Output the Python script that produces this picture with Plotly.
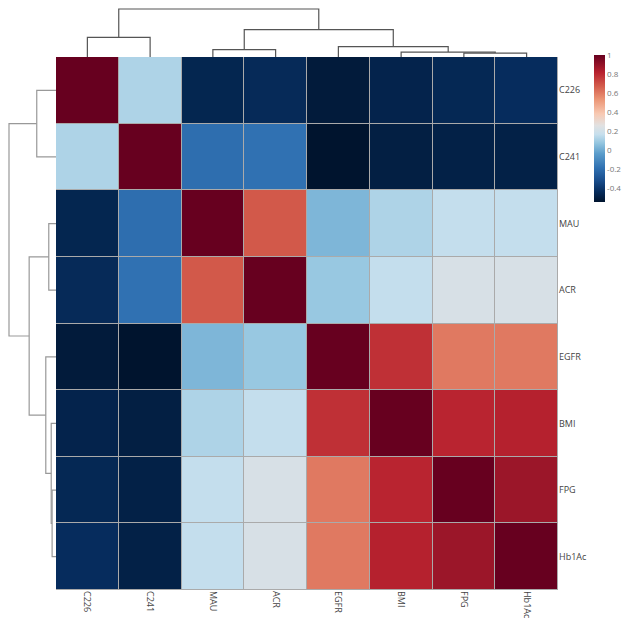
import plotly.graph_objects as go

# ---- data ----
labels = ["C226", "C241", "MAU", "ACR", "EGFR", "BMI", "FPG", "Hb1Ac"]

row_C226 = [1.00, 0.12, -0.47, -0.45, -0.52, -0.48, -0.46, -0.44]
row_C241 = [0.12, 1.00, -0.20, -0.19, -0.55, -0.50, -0.49, -0.49]
row_MAU = [-0.47, -0.20, 1.00, 0.68, 0.03, 0.12, 0.16, 0.16]
row_ACR = [-0.45, -0.19, 0.68, 1.00, 0.08, 0.16, 0.22, 0.22]
row_EGFR = [-0.52, -0.55, 0.03, 0.08, 1.00, 0.78, 0.60, 0.60]
row_BMI = [-0.48, -0.50, 0.12, 0.16, 0.78, 1.00, 0.81, 0.82]
row_FPG = [-0.46, -0.49, 0.16, 0.22, 0.60, 0.81, 1.00, 0.88]
row_Hb1Ac = [-0.44, -0.49, 0.16, 0.22, 0.60, 0.82, 0.88, 1.00]
corr = [row_C226, row_C241, row_MAU, row_ACR, row_EGFR, row_BMI, row_FPG, row_Hb1Ac]

# hierarchical clustering merges (leaf indices 0..7 in display order, new nodes 8..)
merge_left = [6, 5, 2, 4, 0, 10, 12]
merge_right = [7, 8, 3, 9, 1, 11, 13]
merge_height = [4.3, 5.3, 8.0, 11.3, 21.3, 29.7, 52.0]

cbar_ticks = [-0.4, -0.2, 0, 0.2, 0.4, 0.6, 0.8, 1]
cbar_ticktext = ["-0.4", "-0.2", "0", "0.2", "0.4", "0.6", "0.8", "1"]
zmin, zmax = -0.55, 1.0

colorscale = [
    [0.00, "#00142e"], [0.07, "#062c5c"], [0.15, "#1a4f8e"], [0.23, "#2f70b1"],
    [0.33, "#5b9dcb"], [0.40, "#93c5df"], [0.46, "#c6dfed"], [0.52, "#e1e1e1"],
    [0.60, "#f8c9b2"], [0.70, "#eb9474"], [0.79, "#d35b4b"], [0.88, "#b8222f"],
    [1.00, "#67001f"],
]


def dendro_segments(n, L, R, Hs):
    pos = {i: float(i) for i in range(n)}
    hgt = {i: 0.0 for i in range(n)}
    xs, ys = [], []
    for k, (a, b, h) in enumerate(zip(L, R, Hs)):
        xs += [pos[a], pos[a], pos[b], pos[b], None]
        ys += [hgt[a], h, h, hgt[b], None]
        pos[n + k] = (pos[a] + pos[b]) / 2
        hgt[n + k] = h
    return xs, ys


n = len(labels)
dx, dy = dendro_segments(n, merge_left, merge_right, merge_height)

OFF = 8  # page body margin
W, H = 630 - 2 * OFF, 629 - 2 * OFF


def px(v):
    return v - OFF


hx0, hx1 = px(56), px(558)
hy0, hy1 = px(57), px(590)
dend_top = 1      # figure px where top-most merge line sits
dend_left = 1     # figure px where left-most merge line sits

fig = go.Figure()
fig.add_trace(go.Heatmap(
    z=corr, x=list(range(n)), y=list(range(n)),
    colorscale=colorscale, zmin=zmin, zmax=zmax, xgap=1, ygap=1,
    hoverinfo="skip",
    colorbar=dict(
        x=px(594) / W, xanchor="left", y=(H - px(55)) / H, yanchor="top",
        len=147, lenmode="pixels", thickness=11, thicknessmode="pixels",
        outlinewidth=0, tickvals=cbar_ticks, ticktext=cbar_ticktext,
        tickfont=dict(size=8, color="#777"), ticks="", xpad=0, ypad=0,
    ),
))
fig.add_trace(go.Scatter(x=dx, y=dy, mode="lines", xaxis="x2", yaxis="y2",
                         line=dict(color="#555", width=1.2), hoverinfo="skip",
                         showlegend=False))
fig.add_trace(go.Scatter(x=dy, y=dx, mode="lines", xaxis="x3", yaxis="y3",
                         line=dict(color="#999", width=1.2), hoverinfo="skip",
                         showlegend=False))

top_h = max(merge_height)
fig.update_layout(
    width=W, height=H, margin=dict(l=0, r=0, t=0, b=0, autoexpand=False),
    paper_bgcolor="white", plot_bgcolor="white", showlegend=False,
    font=dict(family="Open Sans", size=9, color="#444"),
    xaxis=dict(domain=[hx0 / W, hx1 / W], range=[-0.5, n - 0.5], anchor="y",
               tickvals=list(range(n)), ticktext=labels, tickangle=90,
               showgrid=False, zeroline=False, ticks="", automargin=False,
               tickfont=dict(size=9, color="#444")),
    yaxis=dict(domain=[(H - hy1) / H, (H - hy0) / H], range=[n - 0.5, -0.5],
               anchor="x", side="right", tickvals=list(range(n)), ticktext=labels,
               showgrid=False, zeroline=False, ticks="", automargin=False,
               tickfont=dict(size=9, color="#444")),
    xaxis2=dict(domain=[hx0 / W, hx1 / W], range=[-0.5, n - 0.5], anchor="y2",
                visible=False, matches="x"),
    yaxis2=dict(domain=[(H - hy0) / H, 1.0],
                range=[0, top_h * hy0 / (hy0 - dend_top)],
                anchor="x2", visible=False),
    xaxis3=dict(domain=[0, hx0 / W], range=[top_h * hx0 / (hx0 - dend_left), 0],
                anchor="y3", visible=False),
    yaxis3=dict(domain=[(H - hy1) / H, (H - hy0) / H], range=[n - 0.5, -0.5],
                anchor="x3", visible=False, matches="y"),
    shapes=[dict(type="rect", xref="x", yref="y", x0=-0.5, x1=n - 0.5,
                 y0=-0.5, y1=n - 0.5, fillcolor="#aaaaaa",
                 line=dict(color="#aaaaaa", width=1), layer="below")],
)

fig.write_html("out.html")
